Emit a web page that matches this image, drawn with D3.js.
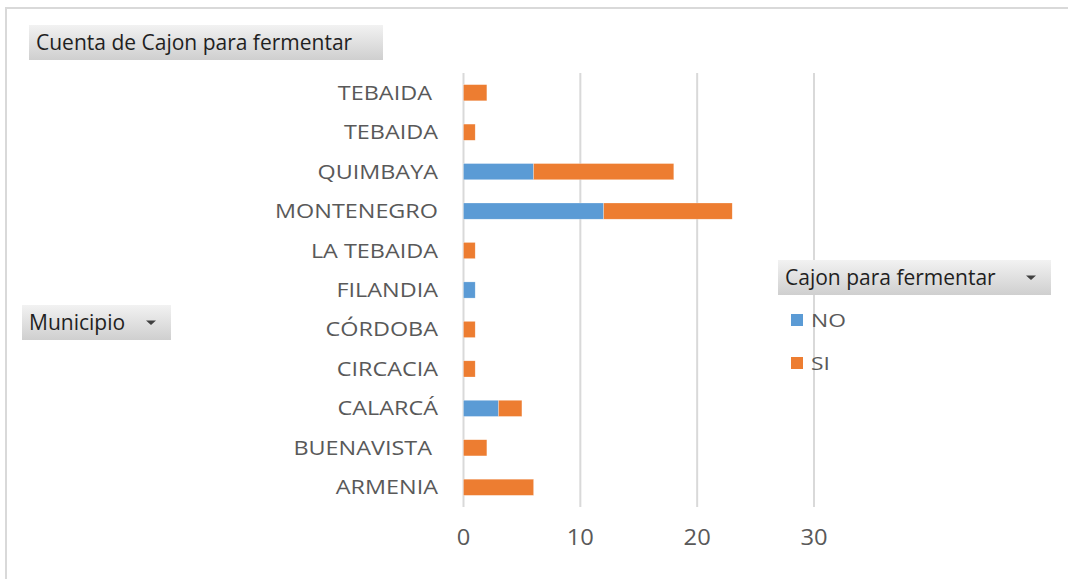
<!DOCTYPE html>
<html>
<head>
<meta charset="utf-8">
<script src="https://cdn.jsdelivr.net/npm/d3@7"></script>
<style>
  body { margin: 0; background: #fff; }
  svg { display: block; }
</style>
</head>
<body>
<div id="chart"></div>
<script>
// data (bottom to top as in the pivot chart)
var municipios = ["ARMENIA", "BUENAVISTA ", "CALARCÁ", "CIRCACIA", "CÓRDOBA", "FILANDIA",
                  "LA TEBAIDA", "MONTENEGRO", "QUIMBAYA", "TEBAIDA", "TEBAIDA "];
var valoresNO = [0, 0, 3, 0, 0, 1, 0, 12, 6, 0, 0];
var valoresSI = [6, 2, 2, 1, 1, 0, 1, 11, 12, 1, 2];
var series = ["NO", "SI"];
var colores = ["#5b9bd5", "#ed7d31"];
var ticks = [0, 10, 20, 30];

var width = 1068, height = 579;
var margin = {top: 73, left: 463.5, bottom: 72, right: 254};
var font = "'Open Sans', sans-serif";

var svg = d3.select("#chart").append("svg")
    .attr("width", width)
    .attr("height", height);

var defs = svg.append("defs");
var grad = defs.append("linearGradient")
    .attr("id", "btn").attr("x1", 0).attr("y1", 0).attr("x2", 0).attr("y2", 1);
grad.append("stop").attr("offset", "0%").attr("stop-color", "#f2f2f2");
grad.append("stop").attr("offset", "100%").attr("stop-color", "#cfcfcf");

// outer border
svg.append("rect")
    .attr("x", 6).attr("y", 8)
    .attr("width", width + 10).attr("height", height + 10)
    .attr("fill", "none")
    .attr("stroke", "#d9d9d9")
    .attr("stroke-width", 2);

var x = d3.scaleLinear().domain([0, 30]).range([margin.left, 814]);
var y = d3.scaleBand()
    .domain(municipios.map(function (d, i) { return i; }))
    .range([height - margin.bottom, margin.top])
    .paddingInner(0.59).paddingOuter(0.295);

// gridlines
svg.append("g").selectAll("line")
    .data(ticks)
    .enter().append("line")
    .attr("x1", function (d) { return x(d); })
    .attr("x2", function (d) { return x(d); })
    .attr("y1", margin.top)
    .attr("y2", height - margin.bottom)
    .attr("stroke", "#d9d9d9")
    .attr("stroke-width", 2);

// x tick labels (excel text is a bit wider than open sans)
svg.append("g").selectAll("text")
    .data(ticks)
    .enter().append("text")
    .attr("transform", function (d) { return "translate(" + x(d) + ",545) scale(1.13,1)"; })
    .attr("text-anchor", "middle")
    .attr("font-family", font)
    .attr("font-size", "21px")
    .attr("fill", "#595959")
    .text(function (d) { return d; });

// category labels
svg.append("g").selectAll("text")
    .data(municipios)
    .enter().append("text")
    .attr("transform", function (d, i) {
      return "translate(438," + (y(i) + y.bandwidth() / 2) + ") scale(1.17,1)";
    })
    .attr("dy", "0.35em")
    .attr("text-anchor", "end")
    .attr("font-family", font)
    .attr("font-size", "20px")
    .attr("fill", "#595959")
    .style("white-space", "pre")
    .text(function (d) { return d; });

// stacked bars
var stackData = municipios.map(function (m, i) { return {i: i, NO: valoresNO[i], SI: valoresSI[i]}; });
var stacked = d3.stack().keys(series)(stackData);

svg.append("g").selectAll("g")
    .data(stacked)
    .enter().append("g")
    .attr("fill", function (d, k) { return colores[k]; })
    .selectAll("rect")
    .data(function (d) { return d.filter(function (p) { return p[1] > p[0]; }); })
    .enter().append("rect")
    .attr("x", function (p) { return x(p[0]); })
    .attr("width", function (p) { return x(p[1]) - x(p[0]); })
    .attr("y", function (p) { return y(p.data.i); })
    .attr("height", y.bandwidth())
    .attr("stroke", "#fff")
    .attr("stroke-opacity", 0.5)
    .attr("stroke-width", 0.5);

// pivot field buttons
function button(bx, by, bw, bh, label, arrow) {
  var g = svg.append("g");
  g.append("rect")
      .attr("x", bx).attr("y", by)
      .attr("width", bw).attr("height", bh)
      .attr("fill", "url(#btn)");
  g.append("text")
      .attr("x", bx + 7)
      .attr("y", by + bh / 2)
      .attr("dy", "0.35em")
      .attr("font-family", font)
      .attr("font-size", "21px")
      .attr("fill", "#1f1f1f")
      .text(label);
  if (arrow) {
    var ax = bx + bw - 20, ay = by + bh / 2 - 2;
    g.append("path")
        .attr("d", "M" + (ax - 5) + "," + ay + "L" + (ax + 5) + "," + ay + "L" + ax + "," + (ay + 4.5) + "Z")
        .attr("fill", "#404040");
  }
}

button(29, 25, 354, 35, "Cuenta de Cajon para fermentar", false);
button(22, 305, 149, 35, "Municipio", true);
button(778, 260, 273, 35, "Cajon para fermentar", true);

// legend
var legend = svg.append("g").selectAll("g")
    .data(series)
    .enter().append("g")
    .attr("transform", function (d, k) { return "translate(791," + (320 + k * 43) + ")"; });
legend.append("rect")
    .attr("x", 0).attr("y", -6)
    .attr("width", 12).attr("height", 12)
    .attr("fill", function (d, k) { return colores[k]; });
legend.append("text")
    .attr("transform", "translate(20,0) scale(1.2,1)")
    .attr("dy", "0.35em")
    .attr("font-family", font)
    .attr("font-size", "19px")
    .attr("fill", "#595959")
    .text(function (d) { return d; });
</script>
</body>
</html>
